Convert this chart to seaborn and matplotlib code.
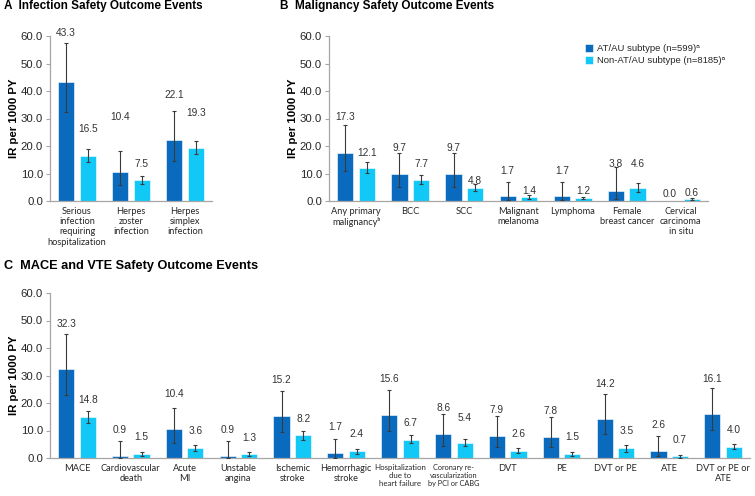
import matplotlib
matplotlib.use("Agg")
import matplotlib.pyplot as plt
import seaborn as sns
import pandas as pd
import numpy as np

# ---------------- data ----------------
groups = ["AT/AU subtype (n=599)ᵃ", "Non-AT/AU subtype (n=8185)ᵃ"]

a_cats = ["Serious\ninfection\nrequiring\nhospitalization", "Herpes\nzoster\ninfection", "Herpes\nsimplex\ninfection"]
a_at = [43.3, 10.4, 22.1]
a_non = [16.5, 7.5, 19.3]
a_at_lo = [32.5, 5.7, 14.7]
a_at_hi = [57.3, 18.3, 32.7]
a_non_lo = [14.3, 6.2, 17.1]
a_non_hi = [18.9, 9.1, 21.8]

b_cats = ["Any primary\nmalignancyᵇ", "BCC", "SCC", "Malignant\nmelanoma", "Lymphoma",
          "Female\nbreast cancer", "Cervical\ncarcinoma\nin situ"]
b_at = [17.3, 9.7, 9.7, 1.7, 1.7, 3.8, 0.0]
b_non = [12.1, 7.7, 4.8, 1.4, 1.2, 4.6, 0.6]
b_at_lo = [10.8, 5.2, 5.2, 0.2, 0.3, 0.9, np.nan]
b_at_hi = [27.5, 17.3, 17.6, 6.9, 6.9, 12.2, np.nan]
b_non_lo = [10.3, 6.3, 3.6, 0.8, 0.6, 3.3, 0.2]
b_non_hi = [14.2, 9.3, 6.2, 2.2, 1.6, 6.5, 1.0]

c_cats = ["MACE", "Cardiovascular\ndeath", "Acute\nMI", "Unstable\nangina", "Ischemic\nstroke",
          "Hemorrhagic\nstroke", "Hospitalization\ndue to\nheart failure",
          "Coronary re-\nvascularization\nby PCI or CABG", "DVT", "PE", "DVT or PE", "ATE",
          "DVT or PE or\nATE"]
c_at = [32.3, 0.9, 10.4, 0.9, 15.2, 1.7, 15.6, 8.6, 7.9, 7.8, 14.2, 2.6, 16.1]
c_non = [14.8, 1.5, 3.6, 1.3, 8.2, 2.4, 6.7, 5.4, 2.6, 1.5, 3.5, 0.7, 4.0]
c_at_lo = [22.9, 0.1, 5.6, 0.1, 9.4, 0.1, 9.8, 4.5, 3.9, 3.9, 8.7, 0.6, 10.2]
c_at_hi = [45.2, 6.2, 18.3, 6.2, 24.5, 7.0, 24.8, 16.0, 15.2, 15.0, 23.4, 8.0, 25.6]
c_non_lo = [12.8, 0.85, 2.6, 0.6, 6.7, 1.6, 5.4, 4.3, 1.7, 0.85, 2.3, 0.1, 3.4]
c_non_hi = [17.2, 2.2, 4.6, 2.1, 9.9, 3.2, 8.3, 7.0, 3.7, 2.1, 4.6, 1.1, 5.2]

yticks = [0, 10, 20, 30, 40, 50, 60]

# layout: heights (data units) at which the value labels sit
a_lab_at = [61.1, 30.5, 38.5]
a_lab_non = [26.2, 13.5, 32.0]
b_lab_at = [30.4, 19.4, 19.4, 11.0, 11.0, 13.5, 2.7]
b_lab_non = [17.6, 13.5, 7.4, 3.6, 3.5, 13.5, 3.0]
c_lab_at = [48.8, 10.3, 23.4, 10.3, 28.2, 11.3, 28.6, 18.2, 17.3, 17.1, 27.0, 11.9, 28.8]
c_lab_non = [21.0, 7.6, 9.7, 7.4, 14.3, 8.6, 12.8, 14.7, 8.6, 7.6, 9.7, 6.7, 10.1]

# ---------------- style ----------------
sns.set_theme(style="white")
plt.rcParams["font.family"] = ["Liberation Sans", "DejaVu Sans"]

DARK = "#0A6BBE"
LIGHT = "#12C8F6"
SPINE = "#A6A6A6"
TXT = "#262626"

W, H = 755, 496
fig = plt.figure(figsize=(W / 100, H / 100), dpi=100)


def make_ax(left, right, top, bottom):
    return fig.add_axes([left / W, 1 - bottom / H, (right - left) / W, (bottom - top) / H])


def panel(ax, cats, at, non, at_lo, at_hi, non_lo, non_hi, lab_at, lab_non, legend=False):
    df = pd.DataFrame({
        "cat": list(cats) * 2,
        "grp": [groups[0]] * len(cats) + [groups[1]] * len(cats),
        "val": list(at) + list(non),
    })
    sns.barplot(data=df, x="cat", y="val", hue="grp", hue_order=groups, order=cats,
                palette=[DARK, LIGHT], saturation=1, width=0.8, gap=0.25, errorbar=None,
                edgecolor="white", linewidth=0.4, ax=ax, legend=legend)
    n = len(cats)
    bars = [p for p in ax.patches if hasattr(p, "get_x")][: 2 * n]
    vals = list(at) + list(non)
    los = list(at_lo) + list(non_lo)
    his = list(at_hi) + list(non_hi)
    labs = list(lab_at) + list(lab_non)
    for p, v, lo, hi, ly in zip(bars, vals, los, his, labs):
        xc = p.get_x() + p.get_width() / 2
        if not np.isnan(lo):
            ax.errorbar([xc], [v], yerr=[[v - lo], [hi - v]], fmt="none",
                        ecolor="#3A3A3A", elinewidth=0.8, capsize=1.3, capthick=0.8, zorder=5)
        ax.text(xc, ly, f"{v:.1f}", ha="center", va="center", fontsize=7.3,
                color="#333333", clip_on=False)
    ax.set_xlim(-0.5, n - 0.5)
    ax.set_ylim(0, 60)
    ax.set_yticks(yticks)
    ax.set_yticklabels([f"{t:.1f}" for t in yticks], fontsize=8.2, color=TXT)
    ax.set_xticks(range(n))
    ax.set_xticklabels(cats, fontsize=6.7, color=TXT, family=["Lato", "DejaVu Sans"],
                       linespacing=1.2, va="top")
    ax.set_xticks(np.arange(n + 1) - 0.5, minor=True)
    ax.tick_params(axis="x", which="major", length=0, pad=4)
    ax.tick_params(axis="x", which="minor", length=3.5, width=0.8, color=SPINE, direction="out")
    ax.tick_params(axis="y", length=3, width=0.8, color=SPINE, direction="out", pad=2,
                   left=True)
    for s in ["top", "right"]:
        ax.spines[s].set_visible(False)
    for s in ["left", "bottom"]:
        ax.spines[s].set_color(SPINE)
        ax.spines[s].set_linewidth(0.9)
    ax.set_xlabel("")
    ax.set_ylabel("IR per 1000 PY", fontsize=8.2, fontweight="bold", color="black", labelpad=1)

    # shrink only the wider of two neighbouring category labels that would collide
    fig.canvas.draw()
    r = fig.canvas.get_renderer()
    tl = ax.get_xticklabels()
    for i in range(len(tl) - 1):
        a, b = tl[i], tl[i + 1]
        while (a.get_window_extent(r).x1 > b.get_window_extent(r).x0 - 2
               and min(a.get_fontsize(), b.get_fontsize()) > 5):
            wider = a if a.get_window_extent(r).width >= b.get_window_extent(r).width else b
            wider.set_fontsize(wider.get_fontsize() - 0.1)


axA = make_ax(50, 212, 36, 201)
panel(axA, a_cats, a_at, a_non, a_at_lo, a_at_hi, a_non_lo, a_non_hi, a_lab_at, a_lab_non)

axB = make_ax(329, 708, 36, 201)
panel(axB, b_cats, b_at, b_non, b_at_lo, b_at_hi, b_non_lo, b_non_hi, b_lab_at, b_lab_non,
      legend=True)
handles, labels = axB.get_legend_handles_labels()
axB.legend(handles, labels, loc="upper left", bbox_to_anchor=(0.665, 0.975), frameon=False,
           fontsize=6.8, handlelength=0.9, handleheight=0.9, handletextpad=0.4,
           labelspacing=0.3, borderaxespad=0)

axC = make_ax(50, 750, 293, 458)
panel(axC, c_cats, c_at, c_non, c_at_lo, c_at_hi, c_non_lo, c_non_hi, c_lab_at, c_lab_non)

fig.text(4 / W, 1 - 6 / H, "A  Infection Safety Outcome Events", fontsize=8.5,
         fontweight="bold", va="center", ha="left", color="black")
fig.text(280 / W, 1 - 6 / H, "B  Malignancy Safety Outcome Events", fontsize=8.5,
         fontweight="bold", va="center", ha="left", color="black")
fig.text(4 / W, 1 - 266 / H, "C  MACE and VTE Safety Outcome Events", fontsize=9.2,
         fontweight="bold", va="center", ha="left", color="black")

fig.savefig("out.png", dpi=100, facecolor="white")
